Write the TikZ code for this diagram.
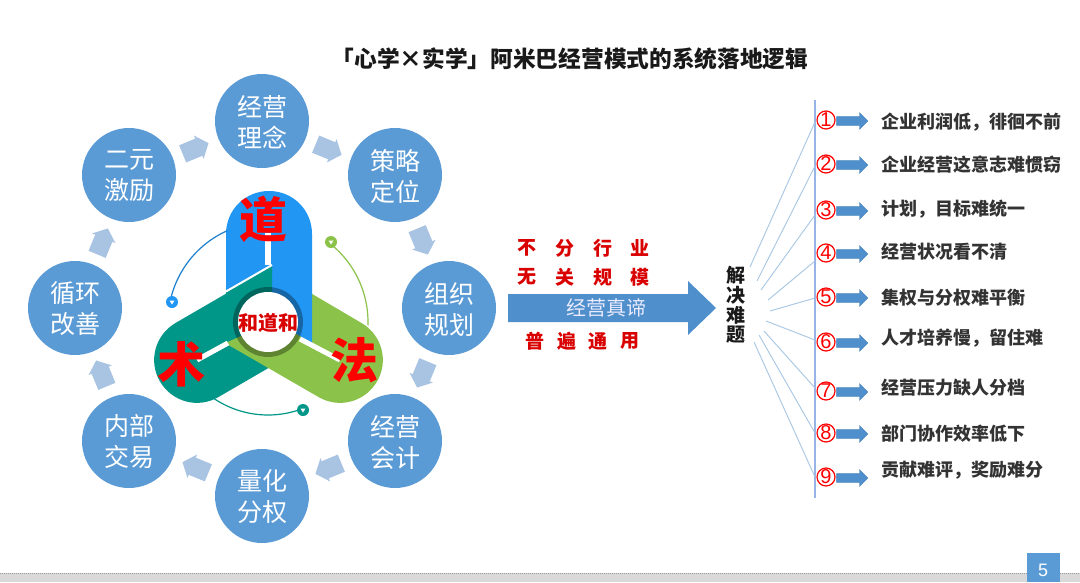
\documentclass[tikz,border=0pt]{standalone}
\usepackage{fontspec}
\usetikzlibrary{shapes.arrows,calc}
\setmainfont{Noto Sans CJK SC}
\newfontfamily\latinf{Liberation Sans}
\definecolor{cblue}{HTML}{5B9BD5}
\definecolor{aring}{HTML}{A9C3E2}
\definecolor{abl}{HTML}{4F8FCB}
\definecolor{tblue}{HTML}{2196F3}
\definecolor{tteal}{HTML}{009688}
\definecolor{tgreen}{HTML}{8BC34A}
\definecolor{lline}{HTML}{A9C8E4}
\newcommand{\pxs}[1]{\fontsize{\dimexpr#1pt*3/4\relax}{\dimexpr#1pt*9/10\relax}\selectfont}
\newcommand{\shaft}[1]{\rule{0pt}{#1}}
\tikzset{
 x=0.75pt,y=-0.75pt,
 ringc/.style={circle,fill=cblue,minimum size=70.5pt,inner sep=0pt},
 ringt/.style={inner sep=0pt,text=white,align=center,font=\fontsize{18.75pt}{23.25pt}\selectfont},
 ringa/.style={single arrow,fill=aring,minimum height=21pt,single arrow head extend=2.5pt,inner sep=0pt,single arrow tip angle=100},
 sarrow/.style={single arrow,fill=abl,draw=abl!90!black,line width=.3pt,minimum height=23.5pt,single arrow head extend=2.9pt,inner sep=0pt,single arrow tip angle=90},
 rednum/.style={circle,draw=red,line width=.9pt,minimum size=13.5pt,inner sep=0pt,text=red,font=\latinf\pxs{20}},
 item/.style={anchor=west,inner sep=0pt,font=\bfseries\pxs{18},text=black!80},
 redt/.style={inner sep=0pt,text=red!85!black,font=\bfseries\pxs{19}},
 bigt/.style={inner sep=0pt,text=red,font=\bfseries\pxs{48}},
 spoke/.style={draw=lline,line width=.7pt},
 slit/.style={white,line width=3.8pt},
 dot/.style={circle,minimum size=9pt,inner sep=0pt},
}
\begin{document}
\begin{tikzpicture}
\useasboundingbox (0,0) rectangle (1080,582);
\fill[white] (0,0) rectangle (1080,582);
% footer
\fill[black!15] (0,573) rectangle (1080,582);
\draw[black!40,line width=.5pt,densely dotted] (0,573) -- (1080,573);
\fill[cblue] (1027,553) rectangle (1060,582);
\node[text=white,inner sep=0pt,font=\latinf\pxs{18}] (page) at (1043,570) {5};
% title
\node[inner sep=0pt,font=\bfseries\pxs{22.7},text=black!90] (title) at (570,59) {「心学×实学」阿米巴经营模式的系统落地逻辑};
% ring
\foreach \i/\x/\y/\a/\b in {1/262/121/经营/理念,2/395/175/策略/定位,3/449/308/组织/规划,4/395/441/经营/会计,5/262/496/量化/分权,6/129/441/内部/交易,7/75/308/循环/改善,8/129/175/二元/激励}{
 \node[ringc] (c\i) at (\x,\y) {};
 \node[ringt] (l\i) at (\x,\y+1) {\a\\\b};
}
\foreach \i/\r/\x/\y in {1/22.5/192/150,2/-22.5/325/148,3/-67.5/421/238,4/-112.5/424/371,5/-157.5/332/467,6/157.5/199/469,7/112.5/103/377,8/67.5/101/245}
 \node[ringa,rotate=\r] (a\i) at (\x,\y) {\shaft{13.5pt}};
% triad
\fill[tteal] (272,267) -- (315,341) -- (218.5,397) .. controls (198,409) and (172,402) .. (160,381.5) .. controls (148,361) and (155,335) .. (175.5,323) -- cycle;
\fill[tgreen] (225,343) -- (268,268) -- (361.5,323) .. controls (382,335) and (389,361) .. (377,381.5) .. controls (365,402) and (339,409) .. (318.5,397) -- cycle;
\fill[tblue] (226,293) -- (226,234) .. controls (226,210) and (245,191) .. (269,191) .. controls (293,191) and (312,210) .. (312,234) -- (312,343) -- cycle;
\fill[tteal] (226,292.5) -- (272,266) -- (272,322) -- (225,343) -- cycle;
\draw[white,line width=1.5pt] (226,291.5) -- (272,265);
\draw[slit] (268,233) -- (268,265);
\draw[slit] (197,360) -- (228,343);
\draw[slit] (300,339) -- (340,360);
\fill[black,opacity=.32] (268,322) circle[radius=35];
\node[circle,fill=white,minimum size=45pt,inner sep=0pt] (hub) at (268,322) {};
\node[inner sep=0pt,text=red!85!black,font=\bfseries\pxs{20}] (hubt) at (268,323) {和道和};
\node[bigt] (dao) at (263,219) {道};
\node[bigt] (shu) at (181,364) {术};
\node[bigt] (fa) at (354,360) {法};
% little arcs
\draw[tblue!85!black,line width=.9pt] plot[domain=114:168,samples=30] ({268+100*cos(\x)},{322-100*sin(\x)});
\draw[tgreen,line width=.9pt] plot[domain=-2:50,samples=30] ({268+100*cos(\x)},{322-100*sin(\x)});
\draw[tteal,line width=.9pt] plot[domain=-124:-69,samples=30] ({268+97*cos(\x)},{318-97*sin(\x)});
\node[dot,fill=tblue] (d1) at (172,302) {};
\node[dot,fill=tgreen] (d2) at (331,242) {};
\node[dot,fill=tteal] (d3) at (303,410) {};
\foreach \n in {d1,d2,d3}{\fill[white] ($(\n)+(-2.5,-1.5)$) -- ($(\n)+(2.5,-1.5)$) -- ($(\n)+(0,2.5)$) -- cycle;}
% main arrow
\fill[abl] (508,294) -- (688,294) -- (688,281) -- (716,308) -- (688,335) -- (688,322) -- (508,322) -- cycle;
\node[inner sep=0pt,text=white!92!blue,font=\pxs{20}] (zd) at (606,308) {经营真谛};
\foreach \t/\x/\y [count=\i] in {不/527/248,分/565/248,行/603/248,业/640/248,无/527/277,关/565/277,规/603/277,模/640/277,普/535/341,遍/567/341,通/598/341,用/630/341}
 \node[redt] (r\i) at (\x,\y) {\t};
\foreach \t/\y [count=\i] in {解/275,决/295,难/315,题/335}
 \node[inner sep=0pt,font=\bfseries\pxs{19},text=black!90] (jj\i) at (736,\y) {\t};
% spine
\coordinate (st) at (815,100); \coordinate (sb) at (815,498);
\draw[draw=lline!90!blue,line width=.9pt] (st) -- (sb);
% spokes
\foreach \i/\fx/\fy/\ty in {1/750/267/122,2/757/281/166,3/761/290/215,4/768/300/261,5/770/311/298,6/766/321/340,7/764/331/388,8/759/335/433,9/754/342/477}{
 \coordinate (sf\i) at (\fx,\fy); \coordinate (se\i) at (815,\ty);
 \draw[spoke] (sf\i) -- (se\i);
}
% items
\foreach \i/\y/\ty/\t in {1/120/122/企业利润低，徘徊不前,2/164/165/企业经营这意志难惯窃,3/210/209/计划，目标难统一,4/253/252/经营状况看不清,5/297/298/集权与分权难平衡,6/342/338/人才培养慢，留住难,7/391/388/经营压力缺人分档,8/433/434/部门协作效率低下,9/477/470/贡献难评，奖励难分}{
 \node[rednum] (n\i) at (826,\y) {\i};
 \node[sarrow] (ar\i) at (850,\y+1) {\shaft{6.5pt}};
 \node[item] (t\i) at (881,\ty) {\t};
}
\end{tikzpicture}
\end{document}
